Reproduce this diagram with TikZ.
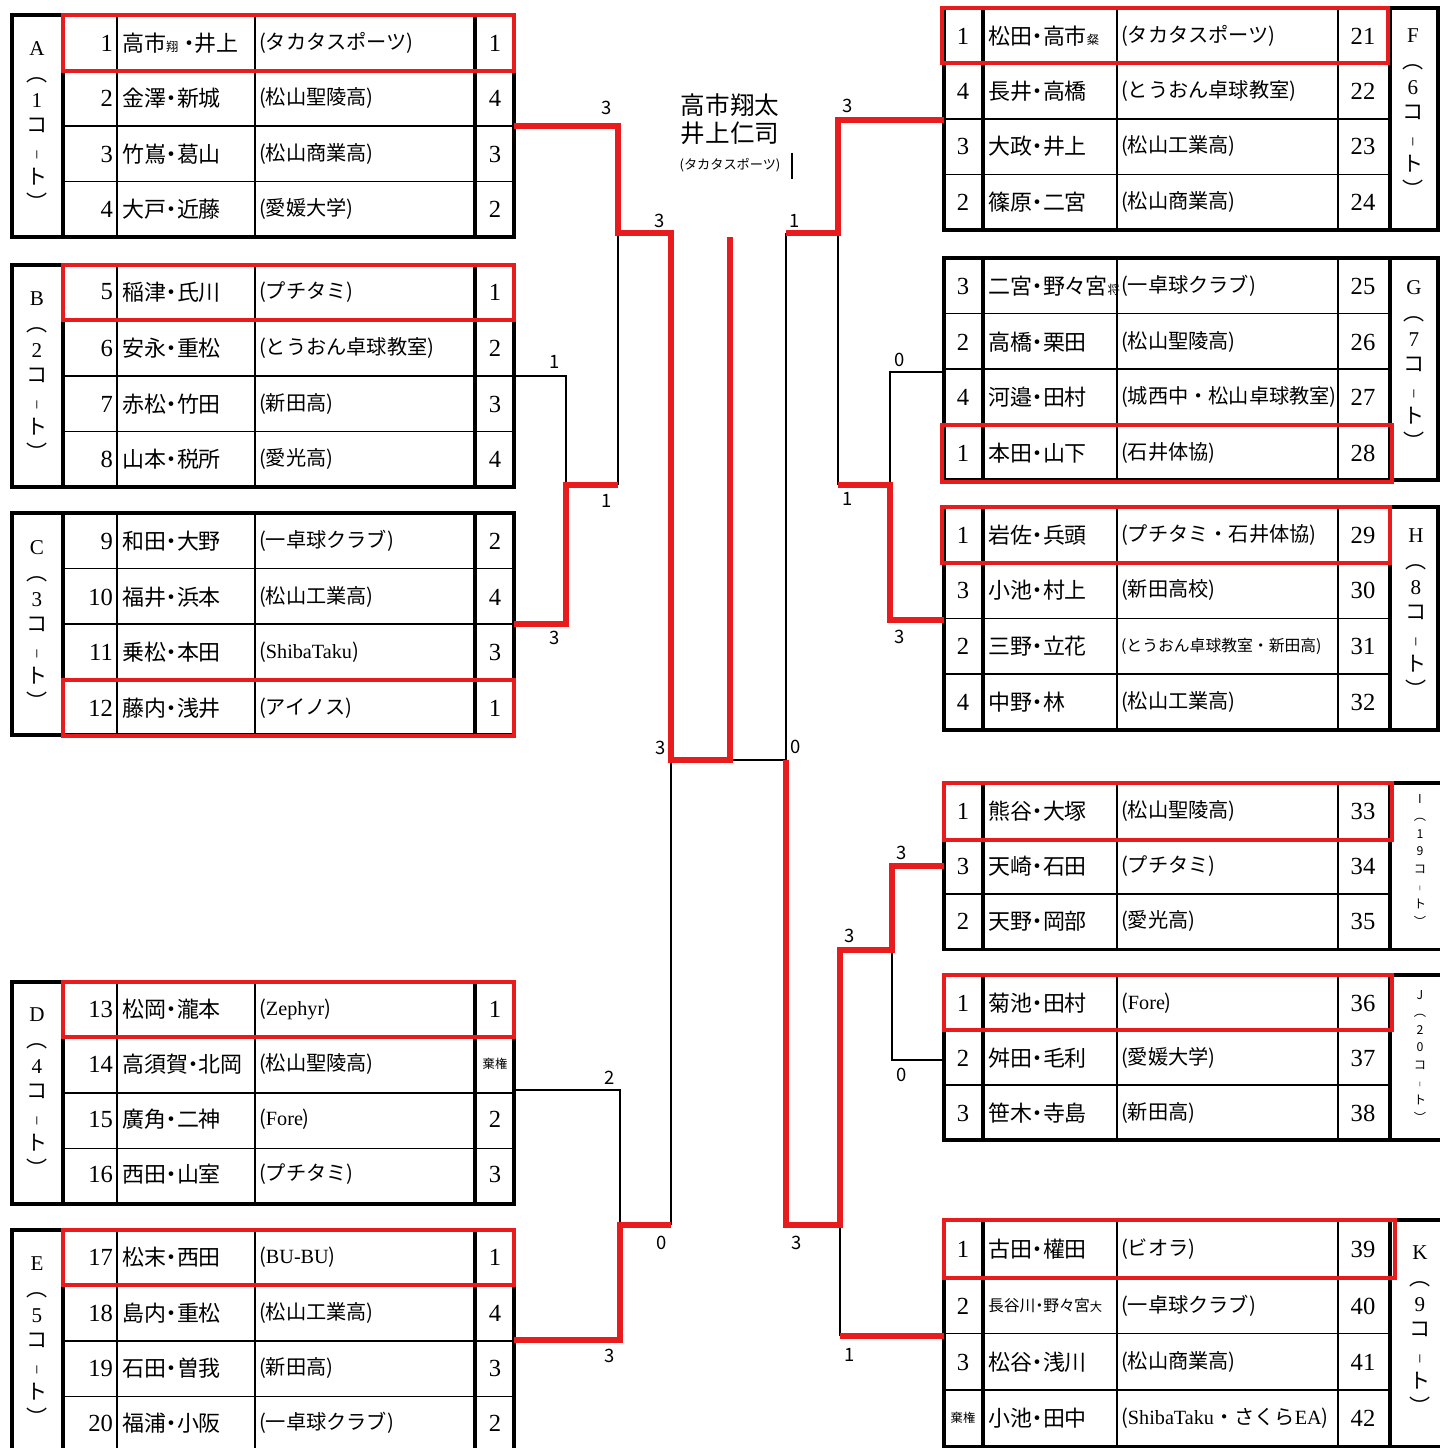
\documentclass[tikz,border=0pt]{standalone}
\usepackage{fontspec}
\setmainfont{Liberation Serif}
\newfontfamily\jp{Noto Sans CJK JP}
\newfontfamily\jpp{Noto Sans CJK JP}[RawFeature=+palt]
\usetikzlibrary{positioning}
\definecolor{winred}{RGB}{232,28,28}
\newcommand{\smallkanji}[1]{{\jp\fontsize{7}{7}\selectfont #1}}
\newcommand{\vbar}{\scalebox{1}[0.45]{︱}}

\begin{document}
\begin{tikzpicture}[
    x=0.02cm, y=-0.02cm,
    % Styles
    outerline/.style={line width=2.2pt},
    innerline/.style={line width=0.9pt},
    seed/.style={draw=winred, line width=2.8pt},  % red box round a winner
    win/.style={draw=winred, line width=3.4pt},   % red path of a winner
    lose/.style={draw=black, line width=1.1pt},
    num/.style={font=\fontsize{14}{14}\selectfont, inner sep=1pt},
    pname/.style={font=\jpp\fontsize{12.5}{12.5}\selectfont, anchor=west, inner sep=1pt},
    team/.style={font=\jp\fontsize{11.5}{11.5}\selectfont, anchor=west, inner sep=1pt},
    court/.style={font=\jp\fontsize{12}{14.7}\selectfont, align=center, inner sep=0pt},
    smallcourt/.style={font=\jp\fontsize{7}{10}\selectfont, align=center, inner sep=0pt},
    score/.style={font=\jp\fontsize{10.5}{10.5}\selectfont, inner sep=1pt}
    ]

\useasboundingbox (0,0) rectangle (1440,1448);
\fill[white] (0,0) rectangle (1440,1448);
\clip (0,0) rectangle (1440,1448);

% Left tables A to E
\foreach \ty in {15,265,513,982,1230} {
    \foreach \k in {1,2,3}
        \draw[innerline] (63,\ty+\k*55.5) -- (514,\ty+\k*55.5);
    \draw[innerline] (117,\ty) -- (117,\ty+222) (255,\ty) -- (255,\ty+222);
    \draw[outerline] (12,\ty) rectangle (514,\ty+222)
        (63,\ty) -- (63,\ty+222) (475,\ty) -- (475,\ty+222);
}

% Right tables F to K
\foreach \ty/\rows/\h/\re in {8/4/55.5/1438, 258/4/55.5/1438, 507/4/55.75/1438,
        783/3/55.5/1450, 975/3/55/1450, 1220/4/56.75/1450} {
    \pgfmathsetmacro\bt{\ty+\rows*\h}
    \pgfmathtruncatemacro\last{\rows-1}
    \foreach \k in {1,...,\last}
        \draw[innerline] (944,\ty+\k*\h) -- (1390,\ty+\k*\h);
    \draw[innerline] (1117,\ty) -- (1117,\bt) (1338,\ty) -- (1338,\bt);
    \draw[outerline] (944,\ty) rectangle (\re,\bt)
        (983,\ty) -- (983,\bt) (1390,\ty) -- (1390,\bt);
}

% Court labels
\node[court] (cA) at (37,126) {\textrm{A}\\︵\\\textrm{1}\\コ\\\vbar\\ト\\︶};
\node[court] (cB) at (37,376) {\textrm{B}\\︵\\\textrm{2}\\コ\\\vbar\\ト\\︶};
\node[court] (cC) at (37,625) {\textrm{C}\\︵\\\textrm{3}\\コ\\\vbar\\ト\\︶};
\node[court] (cD) at (37,1092) {\textrm{D}\\︵\\\textrm{4}\\コ\\\vbar\\ト\\︶};
\node[court] (cE) at (37,1341) {\textrm{E}\\︵\\\textrm{5}\\コ\\\vbar\\ト\\︶};
\node[court] (cF) at (1413,113) {\textrm{F}\\︵\\\textrm{6}\\コ\\\vbar\\ト\\︶};
\node[court] (cG) at (1414,365) {\textrm{G}\\︵\\\textrm{7}\\コ\\\vbar\\ト\\︶};
\node[court] (cH) at (1416,613) {\textrm{H}\\︵\\\textrm{8}\\コ\\\vbar\\ト\\︶};
\node[smallcourt] (cI) at (1420,860) {I\\︵\\1\\9\\コ\\\vbar\\ト\\︶};
\node[smallcourt] (cJ) at (1420,1056) {J\\︵\\2\\0\\コ\\\vbar\\ト\\︶};
\node[court] (cK) at (1420,1330) {\textrm{K}\\︵\\\textrm{9}\\コ\\\vbar\\ト\\︶};

% Left entries: y / seed / pair / team / place
\foreach \yc/\sd/\pn/\tm/\rk in {
    43/1/高市\smallkanji{翔}\kern3pt・井上/(タカタスポーツ)/1,
    98/2/金澤・新城/(松山聖陵高)/4,
    154/3/竹嶌・葛山/(松山商業高)/3,
    209/4/大戸・近藤/(愛媛大学)/2,
    292/5/稲津・氏川/(プチタミ)/1,
    348/6/安永・重松/(とうおん卓球教室)/2,
    404/7/赤松・竹田/(新田高)/3,
    459/8/山本・税所/(愛光高)/4,
    541/9/和田・大野/(一卓球クラブ)/2,
    597/10/福井・浜本/(松山工業高)/4,
    652/11/乗松・本田/(\textrm{ShibaTaku})/3,
    708/12/藤内・浅井/(アイノス)/1,
    1009/13/松岡・瀧本/(\textrm{Zephyr})/1,
    1064/14/高須賀・北岡/(松山聖陵高)/\smallkanji{棄権},
    1119/15/廣角・二神/(\textrm{Fore})/2,
    1174/16/西田・山室/(プチタミ)/3,
    1257/17/松末・西田/(\textrm{BU-BU})/1,
    1313/18/島内・重松/(松山工業高)/4,
    1368/19/石田・曽我/(新田高)/3,
    1423/20/福浦・小阪/(一卓球クラブ)/2} {
    \node[num, anchor=east] (ls\sd) at (115,\yc) {\sd};
    \node[pname] (lp\sd) at (120,\yc) {\pn};
    \node[team] (lt\sd) at (257,\yc) {\tm};
    \node[num] (lr\sd) at (495,\yc) {\rk};
}

% Right entries: y / place / pair / team / seed
\foreach \yc/\rk/\pn/\tm/\sd in {
    36/1/松田・高市\smallkanji{粲}/(タカタスポーツ)/21,
    91/4/長井・高橋/(とうおん卓球教室)/22,
    146/3/大政・井上/(松山工業高)/23,
    202/2/篠原・二宮/(松山商業高)/24,
    286/3/二宮・野々宮\smallkanji{将}/(一卓球クラブ)/25,
    342/2/高橋・栗田/(松山聖陵高)/26,
    397/4/河邉・田村/(城西中・松山卓球教室)/27,
    453/1/本田・山下/(石井体協)/28,
    535/1/岩佐・兵頭/(プチタミ・石井体協)/29,
    590/3/小池・村上/(新田高校)/30,
    646/2/三野・立花/{\fontsize{9}{9}\selectfont(とうおん卓球教室・新田高)}/31,
    702/4/中野・林/(松山工業高)/32,
    811/1/熊谷・大塚/(松山聖陵高)/33,
    866/3/天崎・石田/(プチタミ)/34,
    921/2/天野・岡部/(愛光高)/35,
    1003/1/菊池・田村/(\textrm{Fore})/36,
    1058/2/舛田・毛利/(愛媛大学)/37,
    1113/3/笹木・寺島/(新田高)/38,
    1249/1/古田・權田/(ビオラ)/39,
    1306/2/{\fontsize{9}{9}\selectfont 長谷川・野々宮\smallkanji{大}}/(一卓球クラブ)/40,
    1362/3/松谷・浅川/(松山商業高)/41,
    1418/\smallkanji{棄権}/小池・田中/(\textrm{ShibaTaku}・さくら\textrm{EA})/42} {
    \node[num] (rr\sd) at (963,\yc) {\rk};
    \node[pname] (rp\sd) at (986,\yc) {\pn};
    \node[team] (rt\sd) at (1119,\yc) {\tm};
    \node[num] (rs\sd) at (1363,\yc) {\sd};
}

% Red boxes round the court winners
\draw[seed] (63,15) rectangle (514,71);
\draw[seed] (63,265) rectangle (514,320);
\draw[seed] (63,680) rectangle (514,736);
\draw[seed] (63,982) rectangle (514,1037);
\draw[seed] (63,1230) rectangle (514,1285);
\draw[seed] (942,8) rectangle (1388,63);
\draw[seed] (942,425) rectangle (1392,482);
\draw[seed] (942,507) rectangle (1390,563);
\draw[seed] (944,783) rectangle (1392,840);
\draw[seed] (944,975) rectangle (1392,1030);
\draw[seed] (944,1220) rectangle (1395,1278);

% Champion
\node[font=\jp\fontsize{14}{16}\selectfont, align=center] (champ) at (730,119) {高市翔太\\井上仁司};
\node[font=\jp\fontsize{7.5}{7.5}\selectfont, below=1pt of champ] (champteam) {(タカタスポーツ)};
\draw[line width=1.5pt] ([xshift=3pt]champteam.north east) -- ([xshift=3pt]champteam.south east);

% Bracket joints
\coordinate (a23) at (514,126);
\coordinate (b67) at (514,376);
\coordinate (c1011) at (514,624);
\coordinate (d1415) at (514,1090);
\coordinate (e1819) at (514,1340);
\coordinate (ab) at (618,233);
\coordinate (bc) at (566,485);
\coordinate (abc) at (671,760);
\coordinate (de) at (620,1225);
\coordinate (fin) at (730,760);
\coordinate (finTop) at (730,237);
\coordinate (f23) at (944,120);
\coordinate (g2627) at (944,372);
\coordinate (h3031) at (944,620);
\coordinate (i34) at (944,866);
\coordinate (j37) at (944,1060);
\coordinate (k4041) at (944,1336);
\coordinate (fg) at (838,233);
\coordinate (gh) at (890,485);
\coordinate (fgh) at (786,760);
\coordinate (ij) at (892,950);
\coordinate (ijk) at (840,1225);

% Losing lines
\draw[lose] (b67) -| (bc);
\draw[lose] (bc -| ab) -- (ab);
\draw[lose] (d1415) -| (de);
\draw[lose] (de -| abc) -- (abc);
\draw[lose] (fin) -- (fgh);
\draw[lose] (fgh) -- (fgh |- fg);
\draw[lose] (g2627) -| (gh);
\draw[lose] (gh -| fg) -- (fg);
\draw[lose] (j37) -| (ij);
\draw[lose] (ijk) -- (ijk |- k4041);

% Winning lines
\draw[win] (a23) -| (ab) -| (abc) -| (finTop);
\draw[win] (c1011) -| (bc) -- (bc -| ab);
\draw[win] (e1819) -| (de) -- (de -| abc);
\draw[win] (f23) -| (fg) -- (fg -| fgh);
\draw[win] (h3031) -| (gh) -- (gh -| fg);
\draw[win] (fgh) |- (ijk) |- (ij) |- (i34);
\draw[win] (k4041) -- (k4041 -| ijk);

% Game scores
\node[score] (sA) at (607,108) {3};
\node[score] (sAB) at (660,221) {3};
\node[score] (sB) at (555,362) {1};
\node[score] (sBC) at (607,501) {1};
\node[score] (sC) at (555,638) {3};
\node[score] (sL) at (661,748) {3};
\node[score] (sD) at (610,1078) {2};
\node[score] (sE) at (610,1356) {3};
\node[score] (sDE) at (662,1243) {0};
\node[score] (sR) at (796,747) {0};
\node[score] (sFG) at (795,221) {1};
\node[score] (sF) at (848,106) {3};
\node[score] (sG) at (900,360) {0};
\node[score] (sGH) at (848,499) {1};
\node[score] (sH) at (900,637) {3};
\node[score] (sI) at (902,853) {3};
\node[score] (sIJ) at (850,936) {3};
\node[score] (sJ) at (902,1075) {0};
\node[score] (sIJK) at (797,1243) {3};
\node[score] (sK) at (850,1355) {1};

\end{tikzpicture}
\end{document}
